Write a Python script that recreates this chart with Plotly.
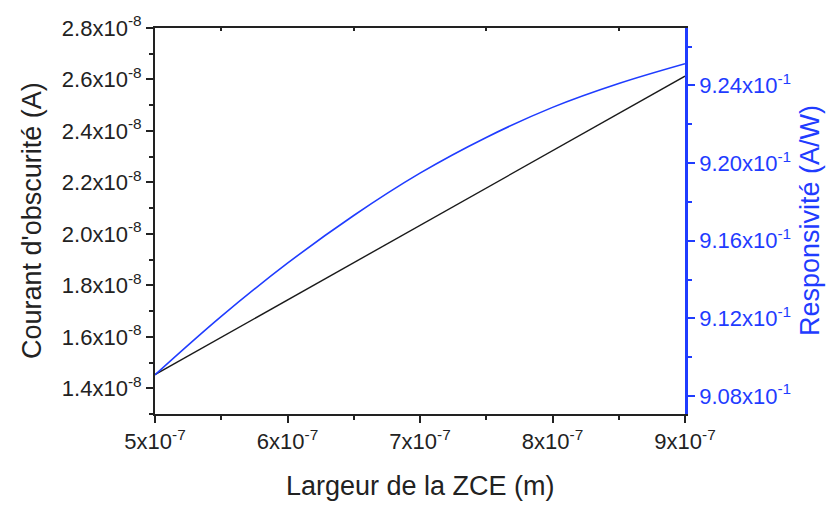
import plotly.graph_objects as go

# largeur de la ZCE (m)
largeur = [5.0e-7, 5.5e-7, 6.0e-7, 6.5e-7, 7.0e-7, 7.5e-7, 8.0e-7, 8.5e-7, 9.0e-7]
# courant d'obscurite (A)
courant = [1.453e-8, 1.598e-8, 1.743e-8, 1.888e-8, 2.033e-8, 2.178e-8, 2.323e-8, 2.468e-8, 2.613e-8]
# responsivite (A/W)
respons = [0.90909, 0.91210, 0.91484, 0.91730, 0.91948, 0.92132, 0.92287, 0.92410, 0.92512]

x_ticks = [5e-7, 6e-7, 7e-7, 8e-7, 9e-7]
x_labels = ["5x10<sup>-7</sup>", "6x10<sup>-7</sup>", "7x10<sup>-7</sup>", "8x10<sup>-7</sup>", "9x10<sup>-7</sup>"]
y1_ticks = [1.4e-8, 1.6e-8, 1.8e-8, 2.0e-8, 2.2e-8, 2.4e-8, 2.6e-8, 2.8e-8]
y1_labels = ["1.4x10<sup>-8</sup>", "1.6x10<sup>-8</sup>", "1.8x10<sup>-8</sup>", "2.0x10<sup>-8</sup>",
             "2.2x10<sup>-8</sup>", "2.4x10<sup>-8</sup>", "2.6x10<sup>-8</sup>", "2.8x10<sup>-8</sup>"]
y2_ticks = [0.908, 0.912, 0.916, 0.920, 0.924]
y2_labels = ["9.08x10<sup>-1</sup>", "9.12x10<sup>-1</sup>", "9.16x10<sup>-1</sup>",
             "9.20x10<sup>-1</sup>", "9.24x10<sup>-1</sup>"]

BLUE = "#1f3cff"
DARK = "#222"
FONT = "Liberation Sans, Arial, sans-serif"
TICKFONT = dict(family=FONT, size=22, color=DARK)

fig = go.Figure()
fig.add_trace(go.Scatter(x=largeur, y=courant, mode="lines",
                         line=dict(color="#1a1a1a", width=1.4), yaxis="y"))
fig.add_trace(go.Scatter(x=largeur, y=respons, mode="lines",
                         line=dict(color=BLUE, width=1.6, shape="spline"), yaxis="y2"))
# dummy trace so the top axis gets drawn
fig.add_trace(go.Scatter(x=[None], y=[None], xaxis="x2", yaxis="y", showlegend=False))

fig.update_layout(
    width=836, height=506,
    margin=dict(l=155, r=151, t=21, b=92),
    plot_bgcolor="white", paper_bgcolor="white",
    showlegend=False,
    font=dict(family=FONT, size=22, color=DARK),
    xaxis=dict(
        range=[5e-7, 9e-7], tickvals=x_ticks, ticktext=x_labels, tickfont=TICKFONT,
        showgrid=False, zeroline=False, showline=True, linecolor=DARK, linewidth=2,
        ticks="outside", ticklen=7, tickwidth=2, tickcolor=DARK,
        minor=dict(tickvals=[5.5e-7, 6.5e-7, 7.5e-7, 8.5e-7], ticks="outside",
                   ticklen=4, tickwidth=2, tickcolor=DARK),
    ),
    xaxis2=dict(
        range=[5e-7, 9e-7], overlaying="x", side="top", anchor="y",
        tickvals=[5.5e-7, 6.5e-7, 7.5e-7, 8.5e-7], showticklabels=False,
        showgrid=False, zeroline=False, showline=True, linecolor=DARK, linewidth=2,
        ticks="inside", ticklen=3, tickwidth=2, tickcolor=DARK,
    ),
    yaxis=dict(
        range=[1.3e-8, 2.8e-8], tickvals=y1_ticks, ticktext=y1_labels, tickfont=TICKFONT,
        showgrid=False, zeroline=False, showline=True, linecolor=DARK, linewidth=2,
        ticks="outside", ticklen=7, tickwidth=2, tickcolor=DARK,
        minor=dict(tickvals=[1.3e-8, 1.5e-8, 1.7e-8, 1.9e-8, 2.1e-8, 2.3e-8, 2.5e-8, 2.7e-8],
                   ticks="outside", ticklen=4, tickwidth=2, tickcolor=DARK),
    ),
    yaxis2=dict(
        range=[0.90707, 0.92696], overlaying="y", side="right", anchor="x",
        tickvals=y2_ticks, ticktext=y2_labels, tickfont=dict(family=FONT, size=22, color=BLUE),
        showgrid=False, zeroline=False, showline=True, linecolor=BLUE, linewidth=2.5,
        ticks="outside", ticklen=7, tickwidth=2, tickcolor=BLUE,
        minor=dict(tickvals=[0.910, 0.914, 0.918, 0.922, 0.926],
                   ticks="outside", ticklen=4, tickwidth=2, tickcolor=BLUE),
    ),
    annotations=[
        dict(text="Largeur de la ZCE (m)", xref="paper", yref="paper",
             x=0.5, y=-0.186, xanchor="center", yanchor="middle",
             showarrow=False, font=dict(size=27, color=DARK)),
        dict(text="Courant d'obscurité (A)", xref="paper", yref="paper",
             x=-0.232, y=0.5, xanchor="center", yanchor="middle", textangle=-90,
             showarrow=False, font=dict(size=27, color=DARK)),
        dict(text="Responsivité (A/W)", xref="paper", yref="paper",
             x=1.236, y=0.5, xanchor="center", yanchor="middle", textangle=-90,
             showarrow=False, font=dict(size=27, color=BLUE)),
    ],
)

fig.write_html("out.html", config={"displayModeBar": False},
               post_script="document.body.style.margin='0';")
